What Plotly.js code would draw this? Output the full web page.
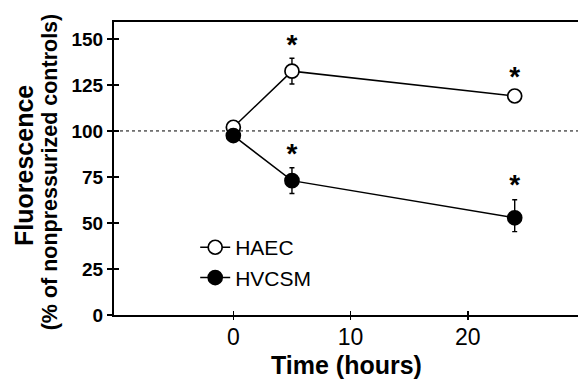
<!DOCTYPE html>
<html>
<head>
<meta charset="utf-8">
<script src="https://cdn.plot.ly/plotly-3.0.1.min.js"></script>
<style>html,body{margin:0;padding:0;background:#fff;}#chart{width:578px;height:379px;}</style>
</head>
<body>
<div id="chart"></div>
<script>
// ---- data ----
const timeHours = [0, 5, 24];
const haecValues = [102, 132.5, 119];
const haecErrorsUp = [2, 7, 2.5];
const haecErrorsDown = [2, 7, 2.5];
const hvcsmValues = [97.5, 73, 52.8];
const hvcsmErrorsUp = [2, 7, 9.8];
const hvcsmErrorsDown = [2, 7, 7.5];
const starTimes = [5, 5, 24, 24];
const starLevels = [145.8, 86.5, 128.3, 69.3];
const referenceLevel = 100;
const xTicks = [0, 10, 20];
const yTicks = [0, 25, 50, 75, 100, 125, 150];
const seriesNames = ['HAEC', 'HVCSM'];

const FONT = 'Liberation Sans, Arial, Helvetica, sans-serif';
const xRange = [-10.18, 29.4];
const yRange = [0, 159.2];

const traces = [
  {
    x: timeHours, y: haecValues, name: seriesNames[0], type: 'scatter', mode: 'lines+markers',
    line: {color: '#000', width: 1.5},
    marker: {symbol: 'circle', size: 14, color: '#fff', line: {color: '#000', width: 1.7}},
    error_y: {type: 'data', symmetric: false, array: haecErrorsUp, arrayminus: haecErrorsDown,
              visible: true, color: '#000', thickness: 1.4, width: 2.5}
  },
  {
    x: timeHours, y: hvcsmValues, name: seriesNames[1], type: 'scatter', mode: 'lines+markers',
    line: {color: '#000', width: 1.5},
    marker: {symbol: 'circle', size: 14, color: '#000', line: {color: '#000', width: 1.7}},
    error_y: {type: 'data', symmetric: false, array: hvcsmErrorsUp, arrayminus: hvcsmErrorsDown,
              visible: true, color: '#000', thickness: 1.4, width: 2.5}
  },
  {
    x: starTimes, y: starLevels, type: 'scatter', mode: 'text', text: starTimes.map(() => '*'),
    textposition: 'middle center', showlegend: false, hoverinfo: 'skip',
    textfont: {family: FONT, size: 28, color: '#000', weight: 'bold'},
    xaxis: 'x2', yaxis: 'y2'
  }
];

const layout = {
  width: 578, height: 379,
  margin: {l: 114, r: 0, t: 22, b: 64},
  paper_bgcolor: '#fff', plot_bgcolor: '#fff',
  showlegend: true,
  legend: {
    x: 0.175, y: 0.3, xanchor: 'left', yanchor: 'top',
    bgcolor: 'rgba(0,0,0,0)', borderwidth: 0,
    font: {family: FONT, size: 21, color: '#000'},
    tracegroupgap: 6
  },
  xaxis: {
    range: xRange, tickvals: xTicks, ticktext: xTicks.map(String),
    showgrid: false, zeroline: false,
    showline: true, linecolor: '#000', linewidth: 2, mirror: true,
    ticks: 'inside', ticklen: 4, tickwidth: 1.5, tickcolor: '#000',
    tickfont: {family: FONT, size: 23, color: '#000'}
  },
  yaxis: {
    range: yRange, tickvals: yTicks, ticktext: yTicks.map(String),
    showgrid: false, zeroline: false,
    showline: true, linecolor: '#000', linewidth: 2,
    ticks: 'outside', ticklen: 5, tickwidth: 1.5, tickcolor: '#000',
    tickfont: {family: FONT, size: 19, color: '#000', weight: 'bold'}
  },
  xaxis2: {
    overlaying: 'x', range: xRange, tickvals: xTicks, showticklabels: false,
    showgrid: false, zeroline: false, showline: false,
    ticks: 'outside', ticklen: 4, tickwidth: 1.5, tickcolor: '#000', anchor: 'y2', side: 'bottom'
  },
  yaxis2: {
    overlaying: 'y', range: yRange, tickvals: yTicks, showticklabels: false,
    showgrid: false, zeroline: false, showline: false,
    ticks: 'inside', ticklen: 5, tickwidth: 1.5, tickcolor: '#000', anchor: 'x2', side: 'left'
  },
  shapes: [{
    type: 'line', xref: 'paper', x0: 0, x1: 1, yref: 'y', y0: referenceLevel, y1: referenceLevel,
    line: {color: '#000', width: 1, dash: 'dot'}, layer: 'below'
  }],
  annotations: [
    {text: 'Time (hours)', xref: 'paper', yref: 'paper', x: 0.5, y: -0.172, xanchor: 'center', yanchor: 'middle',
     showarrow: false, font: {family: FONT, size: 25, color: '#000', weight: 'bold'}},
    {text: 'Fluorescence', xref: 'paper', yref: 'paper', x: -0.194, y: 0.512, xanchor: 'center', yanchor: 'middle',
     textangle: -90, showarrow: false, font: {family: FONT, size: 25, color: '#000', weight: 'bold'}},
    {text: '(% of nonpressurized controls)', xref: 'paper', yref: 'paper', x: -0.136, y: 0.49, xanchor: 'center', yanchor: 'middle',
     textangle: -90, showarrow: false, font: {family: FONT, size: 21.5, color: '#000', weight: 'bold'}}
  ]
};

Plotly.newPlot('chart', traces, layout, {staticPlot: true, displayModeBar: false});
</script>
</body>
</html>
